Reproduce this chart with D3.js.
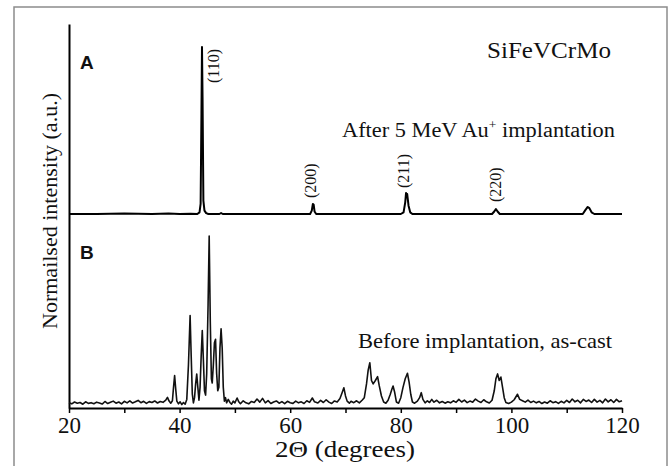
<!DOCTYPE html>
<html>
<head>
<meta charset="utf-8">
<script src="https://cdn.jsdelivr.net/npm/d3@7"></script>
<style>
  html, body { margin: 0; padding: 0; background: #fff; }
  svg { display: block; }
  text { font-family: "Liberation Serif", "Times New Roman", serif; fill: #111; }
</style>
</head>
<body>
<svg id="chart" width="669" height="466"></svg>
<script>
// ---------------- DATA ----------------
// Trace A: after 5 MeV Au+ implantation (normalised, 100 = (110) peak)
const thetaA = [20, 25, 30, 35, 38, 40, 42, 43.2, 43.6, 43.8, 43.95, 44.05, 44.15, 44.3, 44.5, 44.8, 45.2, 47.2, 47.5, 47.8, 50, 55, 60, 63.6, 63.9, 64.1, 64.25, 64.4, 64.7, 70, 75, 80, 80.5, 80.8, 80.95, 81.05, 81.15, 81.4, 81.7, 82.1, 90, 96.5, 96.9, 97.2, 97.5, 97.9, 105, 110, 112.9, 113.4, 113.8, 114.1, 114.5, 115, 120];
const intA   = [0, 0, 0.3, 0, 0.3, 0, 0.2, 0, 1, 6, 60, 100, 70, 8, 2, 0.5, 0, 0, 0.6, 0, 0, 0, 0, 0, 2, 6, 5.5, 1.5, 0, 0, 0, 0, 1, 7, 12.6, 10.5, 12, 5, 1, 0, 0, 0, 1.5, 3, 1.5, 0, 0, 0, 0, 2.5, 4.2, 3.5, 1, 0, 0];

// Trace B: before implantation, as-cast (normalised, 100 = strongest peak)
const thetaB = [20, 20.5, 21, 21.5, 22, 22.5, 23, 23.5, 24, 24.5, 25, 25.5, 26, 26.5, 27, 27.5, 28, 28.5, 29, 29.5, 30, 30.5, 31, 31.5, 32, 32.5, 33, 33.5, 34, 34.5, 35, 35.5, 36, 36.5, 37, 37.5, 37.8, 38.1, 38.4, 38.7, 38.9, 39.1, 39.3, 39.5, 39.8, 40.1, 40.4, 40.7, 41.0, 41.3, 41.6, 41.9, 42.1, 42.3, 42.5, 42.7, 42.9, 43.1, 43.3, 43.5, 43.7, 43.9, 44.1, 44.3, 44.5, 44.7, 44.9, 45.15, 45.35, 45.55, 45.75, 45.9, 46.1, 46.3, 46.5, 46.7, 46.9, 47.1, 47.3, 47.5, 47.7, 47.9, 48.1, 48.3, 48.5, 48.8, 49.1, 49.4, 49.7, 50.0, 50.4, 50.7, 51, 51.5, 52, 52.5, 53, 53.5, 54, 54.5, 55, 55.5, 56, 56.5, 57, 57.5, 58, 58.5, 59, 59.5, 60, 60.5, 61, 61.5, 62, 62.5, 63, 63.5, 64, 64.4, 65, 65.5, 66, 66.5, 67, 67.5, 68, 68.5, 69, 69.4, 69.7, 70.0, 70.3, 70.7, 71, 71.5, 72, 72.5, 73, 73.4, 73.8, 74.1, 74.4, 74.7, 75.0, 75.4, 75.8, 76.1, 76.5, 76.9, 77.3, 77.7, 78.1, 78.4, 78.6, 78.9, 79.2, 79.6, 80.0, 80.4, 80.8, 81.2, 81.5, 81.8, 82.1, 82.5, 83, 83.4, 83.7, 84.0, 84.4, 84.8, 85.2, 85.6, 86, 86.5, 87, 87.5, 88, 88.5, 89, 89.5, 90, 90.5, 91, 91.5, 92, 92.5, 93, 93.5, 94, 94.5, 95, 95.5, 96, 96.5, 96.9, 97.2, 97.5, 97.8, 98.1, 98.4, 98.7, 99, 99.5, 100, 100.5, 101.1, 101.5, 102, 102.5, 103, 103.5, 104, 104.5, 105, 105.5, 106, 106.5, 107, 107.5, 108, 108.5, 109, 109.5, 110, 110.5, 111, 111.5, 112, 112.5, 113, 113.5, 114, 114.5, 115, 115.5, 116, 116.5, 117, 117.5, 118, 118.5, 119, 119.5, 120];
const intB   = [3, 2.4, 3.5, 2.8, 3.2, 2.2, 3.6, 2.7, 3.1, 2.5, 3.4, 2.9, 2.3, 3.8, 2.6, 3.3, 4.0, 2.8, 3.5, 2.4, 3.9, 3.0, 4.2, 2.9, 3.6, 4.4, 3.1, 3.9, 2.7, 3.7, 3.2, 4.1, 2.9, 3.8, 3.3, 4.6, 6.2, 4.0, 2.8, 4.2, 12, 18.8, 11, 4, 2.4, 3.6, 2.0, 3.2, 2.2, 5, 25, 53.7, 30, 8, 3, 6, 14, 19.8, 12, 4.6, 12, 30, 45, 28, 10, 7.5, 20, 60, 100, 50, 17, 14.5, 25, 38, 40, 20, 10, 12, 35, 46, 35, 12, 4, 6, 3, 5, 3.2, 2.2, 4.0, 3.0, 5.8, 3.6, 2.5, 4.2, 3.0, 2.4, 3.8, 3.2, 5.2, 3.4, 5.6, 3.0, 4.3, 2.6, 3.5, 4.1, 2.8, 3.7, 2.5, 3.9, 3.1, 2.7, 4.0, 3.0, 3.6, 2.6, 4.2, 3.3, 5.8, 3.6, 2.9, 4.4, 3.2, 4.8, 3.4, 2.6, 4.1, 3.5, 5.5, 9, 11.8, 7, 4, 2.8, 3.9, 3.1, 4.2, 3.0, 4.5, 6, 14, 22, 26.3, 16, 14, 16, 18.2, 13, 7, 3.5, 2.8, 4.5, 8, 11, 12.8, 9, 3.5, 2.8, 6, 12, 17, 20.2, 15, 8, 3.5, 2.8, 4, 6, 8.9, 5, 3.0, 4.2, 3.2, 5.0, 3.4, 4.5, 3.0, 3.8, 2.8, 3.6, 3.0, 4.2, 3.3, 5.0, 3.5, 4.6, 3.1, 4.0, 3.4, 5.2, 4.0, 3.2, 4.8, 3.6, 2.9, 4.5, 10, 17, 19.8, 16, 18, 12, 6, 3.2, 2.6, 3.4, 4.8, 8, 5, 4.2, 3.4, 4.6, 3.2, 4.0, 3.0, 3.8, 2.6, 3.5, 2.8, 4.2, 3.1, 3.7, 2.7, 3.9, 3.0, 4.4, 3.2, 5.2, 3.6, 4.5, 3.0, 5.0, 3.8, 4.6, 3.2, 5.0, 3.4, 4.4, 3.0, 5.2, 3.6, 4.8, 3.2, 5.0, 3.6, 4.2];

// Peak (hkl) labels of trace A
const peakLabels = ["(110)", "(200)", "(211)", "(220)"];
const peakTheta  = [44.0, 64.2, 81.0, 97.2];

// Axis ticks
const xTicks = [20, 30, 40, 50, 60, 70, 80, 90, 100, 110, 120];
const xTickLabels = ["20", "", "40", "", "60", "", "80", "", "100", "", "120"];

// ---------------- DRAW ----------------
const svg = d3.select("#chart");

// outer frame
svg.append("rect")
  .attr("x", 14).attr("y", 7).attr("width", 653).attr("height", 470)
  .attr("fill", "none").attr("stroke", "#8c8c8c").attr("stroke-width", 1.5);

const x = d3.scaleLinear().domain([20, 120]).range([69, 622]);
const yAxisScale = d3.scaleLinear().domain([0, 1]).range([408, 24]);
const yA = d3.scaleLinear().domain([0, 100]).range([214, 47]);
const yB = d3.scaleLinear().domain([0, 100]).range([408, 236]);

// x axis
const xAxis = svg.append("g")
  .attr("transform", "translate(0,408)")
  .call(d3.axisBottom(x).tickValues(xTicks)
        .tickFormat((d, i) => xTickLabels[i]).tickSize(5).tickSizeOuter(0).tickPadding(4));
xAxis.select(".domain").attr("stroke", "#000").attr("stroke-width", 2);
xAxis.selectAll(".tick line").attr("stroke", "#000").attr("stroke-width", 1.5);
xAxis.selectAll(".tick text")
  .style("font-family", "'Liberation Serif', serif").style("font-size", "23px").attr("fill", "#111");

// y axis (no ticks)
const yAxis = svg.append("g")
  .attr("transform", "translate(69,0)")
  .call(d3.axisLeft(yAxisScale).tickValues([]).tickSizeOuter(0));
yAxis.select(".domain").attr("stroke", "#000").attr("stroke-width", 2);

// traces
const lineA = d3.line().x((d, i) => x(thetaA[i])).y((d, i) => yA(intA[i]));
svg.append("path").datum(intA)
  .attr("d", lineA).attr("fill", "none").attr("stroke", "#000")
  .attr("stroke-width", 2).attr("stroke-linejoin", "round");

const lineB = d3.line().x((d, i) => x(thetaB[i])).y((d, i) => yB(intB[i]));
svg.append("path").datum(intB)
  .attr("d", lineB).attr("fill", "none").attr("stroke", "#111")
  .attr("stroke-width", 1.6).attr("stroke-linejoin", "round");

// peak labels (rotated)
const labelLayout = [
  { dx: 17, dy: 83 },
  { dx: 3, dy: 198 },
  { dx: 3, dy: 188 },
  { dx: 5, dy: 202 }
];
peakLabels.forEach((lab, i) => {
  svg.append("text")
    .attr("transform", `translate(${x(peakTheta[i]) + labelLayout[i].dx},${labelLayout[i].dy}) rotate(-90)`)
    .attr("text-anchor", "start")
    .style("font-size", "16px")
    .attr("fill", "#333")
    .text(lab);
});

// panel letters
svg.append("text").attr("x", 80).attr("y", 69)
  .style("font-family", "'Liberation Sans', Arial, sans-serif").style("font-weight", "bold").style("font-size", "19px")
  .text("A");
svg.append("text").attr("x", 80).attr("y", 259)
  .style("font-family", "'Liberation Sans', Arial, sans-serif").style("font-weight", "bold").style("font-size", "19px")
  .text("B");

// annotations
svg.append("text").attr("x", 487).attr("y", 58)
  .style("font-size", "23px").attr("textLength", 124).attr("lengthAdjust", "spacingAndGlyphs")
  .text("SiFeVCrMo");

const after = svg.append("text").attr("x", 342).attr("y", 137)
  .style("font-size", "20px").attr("textLength", 273).attr("lengthAdjust", "spacingAndGlyphs");
after.append("tspan").text("After 5 MeV Au");
after.append("tspan").attr("dy", -8).style("font-size", "12px").text("+");
after.append("tspan").attr("dy", 8).text(" implantation");

svg.append("text").attr("x", 358).attr("y", 348)
  .style("font-size", "21px").attr("textLength", 254).attr("lengthAdjust", "spacingAndGlyphs")
  .text("Before implantation, as-cast");

// axis titles
svg.append("text").attr("x", 275).attr("y", 457)
  .style("font-size", "23px").attr("textLength", 140).attr("lengthAdjust", "spacingAndGlyphs")
  .text("2Θ (degrees)");

svg.append("text")
  .attr("transform", "translate(57,211) rotate(-90)")
  .attr("text-anchor", "middle")
  .style("font-size", "21px").attr("textLength", 236).attr("lengthAdjust", "spacingAndGlyphs")
  .text("Normailsed intensity (a.u.)");
</script>
</body>
</html>
